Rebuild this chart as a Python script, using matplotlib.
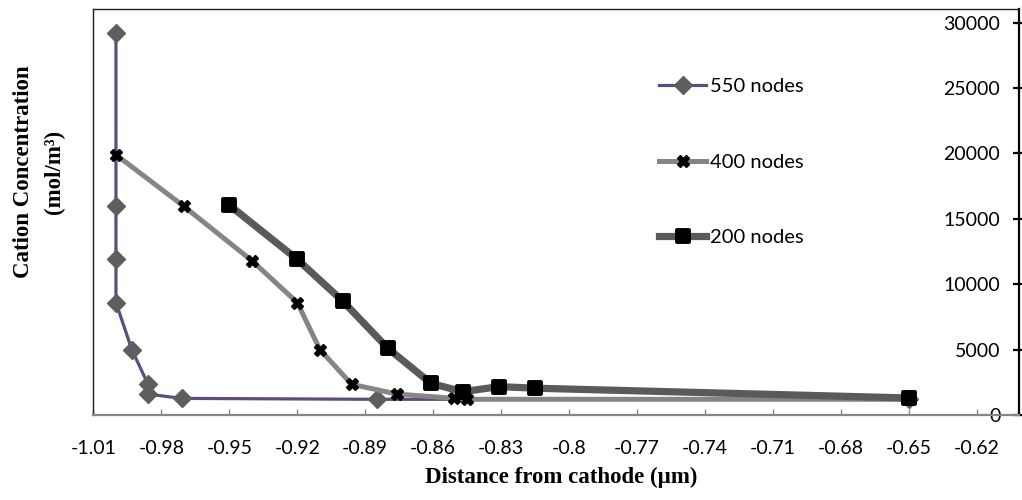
import numpy as np
import matplotlib
matplotlib.use("Agg")
import matplotlib.pyplot as plt
from matplotlib.markers import MarkerStyle
from matplotlib.ticker import FixedLocator, FuncFormatter

# --- data ---
x_550 = [-1.0, -1.0, -1.0, -1.0, -0.993, -0.986, -0.986, -0.971, -0.885, -0.65]
y_550 = [29200, 15950, 11900, 8600, 5000, 2400, 1600, 1270, 1200, 1200]

x_400 = [-1.0, -0.970, -0.940, -0.920, -0.910, -0.896, -0.876, -0.851, -0.845, -0.65]
y_400 = [19900, 15950, 11800, 8600, 5000, 2350, 1600, 1280, 1200, 1200]

x_200 = [-0.950, -0.920, -0.900, -0.880, -0.861, -0.847, -0.831, -0.815, -0.65]
y_200 = [16050, 11900, 8720, 5100, 2420, 1780, 2170, 2050, 1300]

x_ticks = [-1.01, -0.98, -0.95, -0.92, -0.89, -0.86, -0.83, -0.80,
           -0.77, -0.74, -0.71, -0.68, -0.65, -0.62]
y_ticks = [0, 5000, 10000, 15000, 20000, 25000, 30000]

W, H = 1022, 500
fig = plt.figure(figsize=(W / 100, H / 100), dpi=100)
left, right, top, bottom = 93.3, 1019, 9.3, 415
ax = fig.add_axes([left / W, 1 - bottom / H, (right - left) / W, (bottom - top) / H])

# --- series ---
ax.plot(x_550, y_550, color="#5F4B7E", lw=2.3, marker="D", ms=9,
        mfc="#5E5E5E", mec="#5E5E5E", label="550 nodes", zorder=3)
ax.plot(x_400, y_400, color="#858585", lw=3.6, marker="X", ms=9,
        mfc="black", mec="black", label="400 nodes", zorder=4)
sq = MarkerStyle("s", joinstyle="round")
ax.plot(x_200, y_200, color="#5A5A5A", lw=5.2, marker=sq, ms=8, mew=2.8,
        mfc="black", mec="black", label="200 nodes", zorder=5)

# --- axes ---
ax.set_xlim(-1.01, -0.6015)
ax.set_ylim(0, 31020)

for s in ("left", "top"):
    ax.spines[s].set_color("#222222")
    ax.spines[s].set_linewidth(1.0)
ax.spines["right"].set_color("black")
ax.spines["right"].set_linewidth(1.6)
ax.spines["bottom"].set_color("#868686")
ax.spines["bottom"].set_linewidth(1.6)

ax.xaxis.set_major_locator(FixedLocator(x_ticks))
ax.xaxis.set_major_formatter(FuncFormatter(lambda v, p: f"{round(v, 2):g}"))
ax.tick_params(axis="x", direction="in", length=4, width=1, color="#868686",
               labelsize=14, pad=18)

ax.yaxis.set_ticks_position("right")
ax.yaxis.set_major_locator(FixedLocator(y_ticks))
ax.tick_params(axis="y", direction="inout", length=8, width=1.6, color="black",
               labelsize=14, pad=-17.5, labelright=True, labelleft=False)
for lab in ax.get_xticklabels() + ax.get_yticklabels():
    lab.set_fontfamily("Lato")
for lab in ax.get_yticklabels():
    lab.set_ha("right")

# --- axis titles ---
fig.text(39 / W, 1 - 172 / H, "Cation Concentration\n(mol/m³)", rotation=90,
         ha="center", va="center", multialignment="center",
         family="Liberation Serif", weight="bold", size=16.5, linespacing=1.65)
fig.text(561 / W, 1 - 477 / H, "Distance from cathode (µm)", ha="center",
         va="center", family="Liberation Serif", weight="bold", size=16.5)

# --- legend ---
ax.legend(loc="upper left", bbox_to_anchor=(649 / W, 1 - 68 / H),
          bbox_transform=fig.transFigure, frameon=False, borderpad=0,
          handlelength=2.35, handletextpad=0.2, labelspacing=2.9,
          prop={"family": "Lato", "size": 14.5})

fig.savefig("out.png", dpi=100)
